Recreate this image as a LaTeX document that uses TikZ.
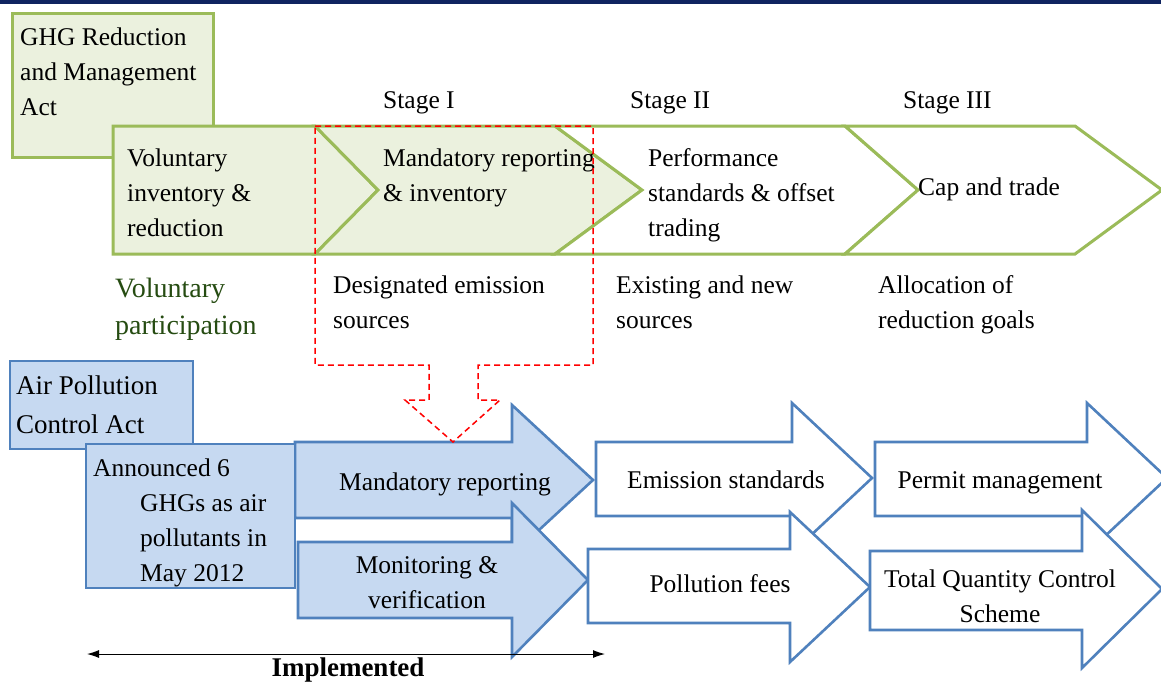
\documentclass[tikz,border=0pt]{standalone}
\usepackage{fontspec}
\setmainfont{Liberation Serif}
\usetikzlibrary{arrows.meta}

\definecolor{ghgfill}{HTML}{EBF1DE}
\definecolor{ghgline}{HTML}{9BBB59}
\definecolor{apcfill}{HTML}{C6D9F1}
\definecolor{apcline}{HTML}{4F81BD}
\definecolor{topbar}{RGB}{15,36,96}
\definecolor{partgreen}{RGB}{38,76,18}

\begin{document}
\begin{tikzpicture}[x=1pt,y=-1pt,
  greenshape/.style={draw=ghgline, line width=3pt, line join=miter},
  blueshape/.style={draw=apcline, line width=2.6pt, line join=miter},
  calloutline/.style={draw=red, line width=1.5pt, dash pattern=on 6pt off 4pt},
  txt/.style={font=\fontsize{25.5}{35}\selectfont, inner sep=0pt, anchor=base west, align=left},
  ctxt/.style={font=\fontsize{25.5}{35}\selectfont, inner sep=0pt, anchor=base, align=center}]

\useasboundingbox (0,0) rectangle (1161,681);
\fill[white] (0,0) rectangle (1161,681);
\fill[topbar] (0,0) rectangle (1161,3.5);

% GHG Reduction and Management Act: stages
\draw[greenshape, fill=ghgfill] (12,13) rectangle (213,157);
\draw[greenshape, fill=ghgfill] (113,126) -- (315,126) -- (378,190) -- (315,254) -- (113,254) -- cycle;
\draw[greenshape, fill=ghgfill] (315,126) -- (555,126) -- (642,190) -- (555,254) -- (315,254) -- (378,190) -- cycle;
\draw[greenshape, fill=white] (555,126) -- (845,126) -- (918,190) -- (845,254) -- (555,254) -- (642,190) -- cycle;
\draw[greenshape, fill=white] (845,126) -- (1075,126) -- (1162,190) -- (1075,254) -- (845,254) -- (918,190) -- cycle;

% multi-line texts are placed at the baseline of their last line
\node[txt] (ghgact) at (20,115) {GHG Reduction\\and Management\\Act};
\node[txt] (stageI) at (383,108) {Stage I};
\node[txt] (stageII) at (630,108) {Stage II};
\node[txt] (stageIII) at (903,108) {Stage III};
\node[txt] (volinv) at (127,236) {Voluntary\\inventory \&\\reduction};
\node[txt] (mandinv) at (383,201) {Mandatory reporting\\\& inventory};
\node[txt] (perf) at (648,236) {Performance\\standards \& offset\\trading};
\node[txt] (cap) at (918,195) {Cap and trade};

\node[txt, font=\fontsize{28}{37}\selectfont, text=partgreen] (volpart) at (115,334) {Voluntary\\participation};
\node[txt] (desig) at (333,328) {Designated emission\\sources};
\node[txt] (exist) at (616,328) {Existing and new\\sources};
\node[txt] (alloc) at (878,328) {Allocation of\\reduction goals};

% Air Pollution Control Act: measures
\draw[blueshape, fill=apcfill] (10,361) rectangle (193,449);
\draw[blueshape, fill=apcfill] (295,442) -- (512,442) -- (512,405) -- (593,480) -- (512,555) -- (512,518) -- (295,518) -- cycle;
\draw[blueshape, fill=apcfill] (86,444) rectangle (295,588);
\draw[blueshape, fill=apcfill] (298,542) -- (512,542) -- (512,503) -- (588,580) -- (512,657) -- (512,618) -- (298,618) -- cycle;

\draw[blueshape, fill=white] (596,442) -- (792,442) -- (792,403) -- (872,478) -- (792,553) -- (792,516) -- (596,516) -- cycle;
\draw[blueshape, fill=white] (588,549) -- (790,549) -- (790,512) -- (870,587) -- (790,662) -- (790,623) -- (588,623) -- cycle;
\draw[blueshape, fill=white] (875,442) -- (1087,442) -- (1087,403) -- (1167,478) -- (1087,553) -- (1087,516) -- (875,516) -- cycle;
\draw[blueshape, fill=white] (870,551) -- (1082,551) -- (1082,510) -- (1162,589) -- (1082,668) -- (1082,630) -- (870,630) -- cycle;

\node[txt, font=\fontsize{27}{39}\selectfont] (apcact) at (16,433) {Air Pollution\\Control Act};
\node[txt] (announced) at (93,581) {Announced 6\\\hspace*{47pt}GHGs as air\\\hspace*{47pt}pollutants in\\\hspace*{47pt}May 2012};
\node[ctxt] (mandrep) at (445,490) {Mandatory reporting};
\node[ctxt] (monitor) at (427,608) {Monitoring \&\\verification};
\node[ctxt] (emission) at (726,488) {Emission standards};
\node[ctxt] (fees) at (720,592) {Pollution fees};
\node[ctxt] (permit) at (1000,488) {Permit management};
\node[ctxt] (tqcs) at (1000,622) {Total Quantity Control\\Scheme};

% Stage I carried over into the Air Pollution Control Act
\draw[calloutline] (315,126) -- (593,126) -- (593,365) -- (478,365) -- (478,400) -- (500,400)
  -- (453,442) -- (405,400) -- (429,400) -- (429,365) -- (315,365) -- cycle;

% Implemented span
\coordinate (impL) at (87,654);
\coordinate (impR) at (605,654);
\draw[line width=1pt, {Latex[length=12pt,width=8pt]}-{Latex[length=12pt,width=8pt]}] (impL) -- (impR);
\node[ctxt, font=\bfseries\fontsize{27}{35}\selectfont] (impl) at (348,676) {Implemented};

\end{tikzpicture}
\end{document}
